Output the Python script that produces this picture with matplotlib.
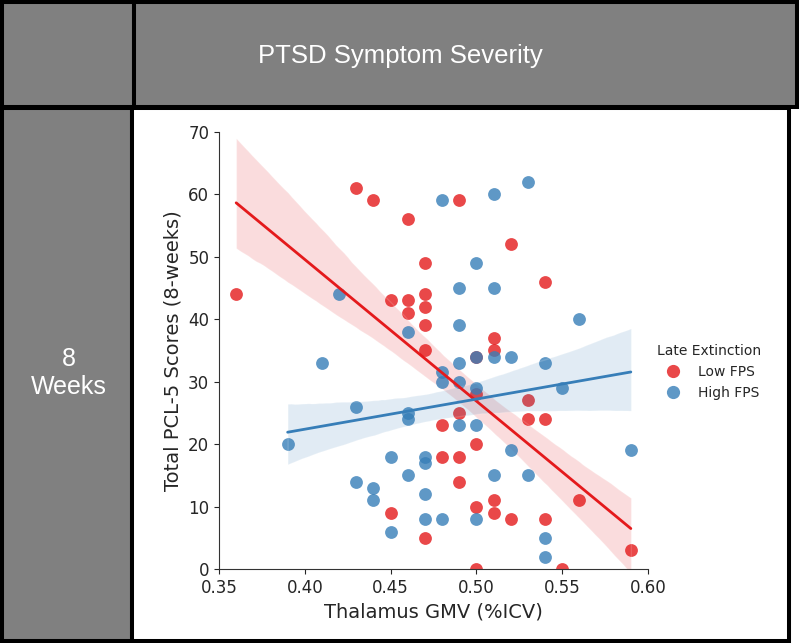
import matplotlib
matplotlib.use("Agg")
import matplotlib.pyplot as plt
from matplotlib.patches import Rectangle
from matplotlib.lines import Line2D
import numpy as np
import pandas as pd
import seaborn as sns

# ---------------- data ----------------
low_x = [0.36, 0.43, 0.44, 0.46, 0.45, 0.46, 0.46, 0.49, 0.52, 0.47, 0.54, 0.47,
         0.47, 0.47, 0.51, 0.51, 0.47, 0.50, 0.50, 0.53, 0.49, 0.48, 0.53, 0.54,
         0.50, 0.48, 0.49, 0.49, 0.56, 0.51, 0.50, 0.51, 0.52, 0.54, 0.47, 0.59,
         0.50, 0.55, 0.45]
low_y = [44, 61, 59, 56, 43, 43, 41, 59, 52, 49, 46, 44,
         42, 39, 37, 35, 35, 34, 28, 27, 25, 23, 24, 24,
         20, 18, 18, 14, 11, 11, 10, 9, 8, 8, 5, 3,
         0, 0, 9]
high_x = [0.42, 0.46, 0.48, 0.51, 0.53, 0.50, 0.49, 0.51, 0.56, 0.49, 0.51, 0.50,
          0.52, 0.49, 0.54, 0.48, 0.48, 0.49, 0.50, 0.55, 0.46, 0.46, 0.49, 0.50,
          0.52, 0.59, 0.47, 0.47, 0.46, 0.51, 0.53, 0.47, 0.47, 0.48, 0.50, 0.54,
          0.54, 0.41, 0.43, 0.39, 0.45, 0.43, 0.44, 0.44, 0.45]
high_y = [44, 38, 59, 60, 62, 49, 45, 45, 40, 39, 34, 34,
          34, 33, 33, 31.5, 30, 30, 29, 29, 25, 24, 23, 23,
          19, 19, 18, 17, 15, 15, 15, 12, 8, 8, 8, 5,
          2, 33, 26, 20, 18, 14, 13, 11, 6]
group_labels = ["Low FPS", "High FPS"]
legend_title = "Late Extinction"
header_text = "PTSD Symptom Severity"
row_text = "8\nWeeks"
x_label = "Thalamus GMV (%ICV)"
y_label = "Total PCL-5 Scores (8-weeks)"
x_ticks = [0.35, 0.40, 0.45, 0.50, 0.55, 0.60]
y_ticks = [0, 10, 20, 30, 40, 50, 60, 70]

colors = ["#e41a1c", "#377eb8"]

sns.set_style("ticks")
plt.rcParams["font.family"] = ["DejaVu Sans"]

W, H = 800, 643
fig = plt.figure(figsize=(W / 100, H / 100), dpi=100)
fig.patch.set_facecolor("white")

# ---------------- table frame ----------------
bg = fig.add_axes([0, 0, 1, 1], zorder=0)
bg.set_xlim(0, W)
bg.set_ylim(H, 0)
bg.axis("off")
gray = "#808080"
lw = 2.9
bg.add_patch(Rectangle((2, 2), 132, 105, facecolor=gray, edgecolor="black", lw=lw))
bg.add_patch(Rectangle((134, 2), 663, 105, facecolor=gray, edgecolor="black", lw=lw))
bg.add_patch(Rectangle((2, 108), 130, 533, facecolor=gray, edgecolor="black", lw=lw))
bg.add_patch(Rectangle((132, 108), 657, 533, facecolor="white", edgecolor="black", lw=lw))

bg.text(400, 56, header_text, color="white", fontsize=18.5,
        family="Liberation Sans", ha="center", va="center")
bg.text(69, 373, row_text, color="white", fontsize=18,
        family="Liberation Sans", ha="center", va="center", linespacing=1.25)

# ---------------- main plot ----------------
ax = fig.add_axes([219 / W, 1 - 569 / H, (648 - 219) / W, (569 - 131.7) / H], zorder=2)
df_low = pd.DataFrame({"x": low_x, "y": low_y})
df_high = pd.DataFrame({"x": high_x, "y": high_y})
for df, c in [(df_low, colors[0]), (df_high, colors[1])]:
    sns.regplot(data=df, x="x", y="y", ax=ax, color=c, seed=1, ci=68,
                scatter_kws={"s": 85, "alpha": 0.8, "linewidths": 0},
                line_kws={"lw": 2})

ax.set_xlim(0.35, 0.60)
ax.set_ylim(0, 70)
ax.set_xticks(x_ticks)
ax.set_xticklabels([f"{t:.2f}" for t in x_ticks])
ax.set_yticks(y_ticks)
ax.tick_params(labelsize=12, colors="#262626")
ax.set_xlabel(x_label, fontsize=14, color="#262626")
ax.set_ylabel(y_label, fontsize=14, color="#262626")
for s in ["top", "right"]:
    ax.spines[s].set_visible(False)
for s in ["left", "bottom"]:
    ax.spines[s].set_color("#333333")

handles = [Line2D([], [], marker="o", ls="", color=c, alpha=0.8, markersize=9.5,
                  markeredgewidth=0) for c in colors]
leg = fig.legend(handles, group_labels, title=legend_title, frameon=False,
                 loc="center", bbox_to_anchor=(0.886, 0.421), fontsize=10,
                 title_fontsize=10, handletextpad=0.8)

fig.savefig("out.png", dpi=100)
